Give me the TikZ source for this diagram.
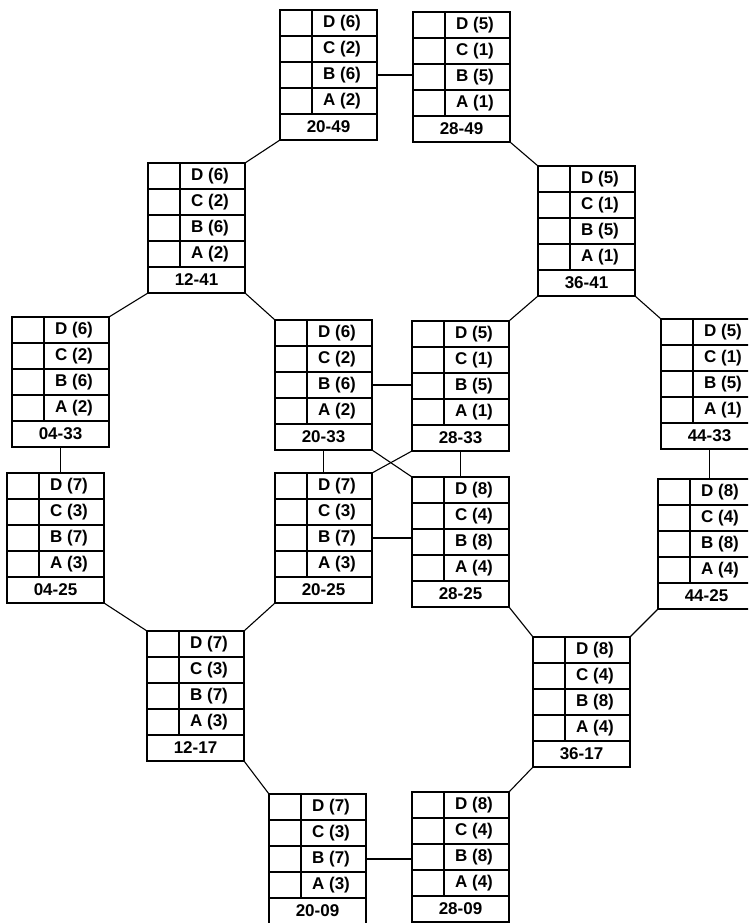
\documentclass[tikz,border=0pt]{standalone}
\usepackage{fontspec}
\setmainfont{Liberation Sans}
\usetikzlibrary{calc}
\tikzset{
  blk/.style={draw, line width=1.3pt, minimum width=97pt, minimum height=130pt, inner sep=0pt, outer sep=0pt},
  grid/.style={line width=1.1pt},
  txt/.style={inner sep=0pt, font=\fontsize{17}{19}\selectfont\bfseries},
  link/.style={line width=1.1pt}
}
\newcommand\blk[8]{%
  \begin{scope}[shift={(#2,-#3)}]
    \node[blk, anchor=north west] (#1) at (0,0) {};
    \foreach \yy in {26,52,78,104} {\draw[grid] (0,-\yy) -- (97,-\yy);}
    \draw[grid] (32,0) -- (32,-104);
    \node[txt] (#1-D) at (62,-13) {#4};
    \node[txt] (#1-C) at (62,-39) {#5};
    \node[txt] (#1-B) at (62,-65) {#6};
    \node[txt] (#1-A) at (62,-91) {#7};
    \node[txt] (#1-L) at (48.5,-117) {#8};
    \coordinate (#1-Bw) at (0,-65);
    \coordinate (#1-Be) at (97,-65);
  \end{scope}}
\begin{document}
\begin{tikzpicture}[x=1pt,y=1pt]
\useasboundingbox (0,0) rectangle (748,-923);
\clip (0,0) rectangle (748,-923);
\blk{b2049}{280}{10}{D (6)}{C (2)}{B (6)}{A (2)}{20-49}
\blk{b2849}{413}{12}{D (5)}{C (1)}{B (5)}{A (1)}{28-49}
\blk{b1241}{148}{163}{D (6)}{C (2)}{B (6)}{A (2)}{12-41}
\blk{b3641}{538}{166}{D (5)}{C (1)}{B (5)}{A (1)}{36-41}
\blk{b0433}{12}{317}{D (6)}{C (2)}{B (6)}{A (2)}{04-33}
\blk{b2033}{275}{320}{D (6)}{C (2)}{B (6)}{A (2)}{20-33}
\blk{b2833}{412}{321}{D (5)}{C (1)}{B (5)}{A (1)}{28-33}
\blk{b4433}{661}{319}{D (5)}{C (1)}{B (5)}{A (1)}{44-33}
\blk{b0425}{7}{473}{D (7)}{C (3)}{B (7)}{A (3)}{04-25}
\blk{b2025}{275}{473}{D (7)}{C (3)}{B (7)}{A (3)}{20-25}
\blk{b2825}{412}{477}{D (8)}{C (4)}{B (8)}{A (4)}{28-25}
\blk{b4425}{658}{479}{D (8)}{C (4)}{B (8)}{A (4)}{44-25}
\blk{b1217}{147}{631}{D (7)}{C (3)}{B (7)}{A (3)}{12-17}
\blk{b3617}{533}{637}{D (8)}{C (4)}{B (8)}{A (4)}{36-17}
\blk{b2009}{269}{794}{D (7)}{C (3)}{B (7)}{A (3)}{20-09}
\blk{b2809}{412}{792}{D (8)}{C (4)}{B (8)}{A (4)}{28-09}
% horizontal B links
\draw[link] (b2049-Be) -- (b2049-Be -| b2849.west);
\draw[link] (b2033-Be) -- (b2033-Be -| b2833.west);
\draw[link] (b2025-Be) -- (b2025-Be -| b2825.west);
\draw[link] (b2009-Be) -- (b2009-Be -| b2809.west);
% vertical links
\draw[link] (b0433.south) -- (b0433.south |- b0425.north);
\draw[link] (b2033.south) -- (b2033.south |- b2025.north);
\draw[link] (b2833.south) -- (b2833.south |- b2825.north);
\draw[link] (b4433.south) -- (b4433.south |- b4425.north);
% diagonal links
\draw[link] (b2049.south west) -- (b1241.north east);
\draw[link] (b2849.south east) -- (b3641.north west);
\draw[link] (b1241.south west) -- (b0433.north east);
\draw[link] (b1241.south east) -- (b2033.north west);
\draw[link] (b3641.south west) -- (b2833.north east);
\draw[link] (b3641.south east) -- (b4433.north west);
\draw[link] (b2033.south east) -- (b2825.north west);
\draw[link] (b2833.south west) -- (b2025.north east);
\draw[link] (b0425.south east) -- (b1217.north west);
\draw[link] (b2025.south west) -- (b1217.north east);
\draw[link] (b2825.south east) -- (b3617.north west);
\draw[link] (b4425.south west) -- (b3617.north east);
\draw[link] (b1217.south east) -- (b2009.north west);
\draw[link] (b3617.south west) -- (b2809.north east);
\end{tikzpicture}
\end{document}
